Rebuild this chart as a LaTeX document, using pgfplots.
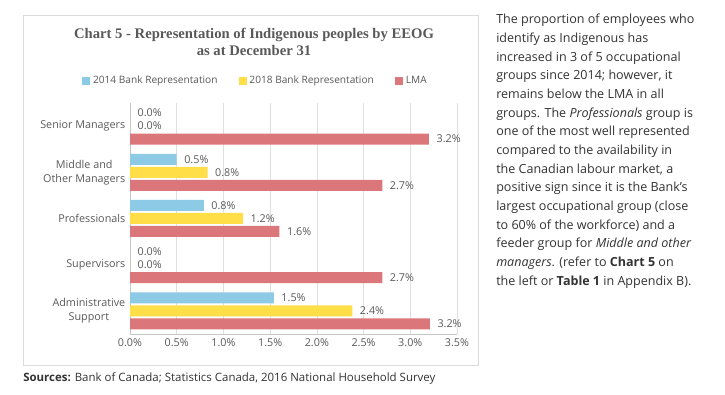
\documentclass[border=0pt]{standalone}
\usepackage{pgfplots}
\pgfplotsset{compat=1.18}
\usepackage{fontspec}
\setmainfont{Open Sans}
\newfontfamily\titlefont{Liberation Serif}
\definecolor{cblue}{RGB}{141,202,229}
\definecolor{cyellow}{RGB}{255,222,72}
\definecolor{cred}{RGB}{219,118,122}
\definecolor{tgray}{RGB}{89,89,89}
\definecolor{ptext}{RGB}{50,50,50}
\pgfplotsset{sqleg/.style={legend image code/.code={\fill[##1] (0pt,-3pt) rectangle (6pt,3pt);}}}
\begin{document}
\begin{tikzpicture}
\draw[gray!28, line width=0.6pt] (17.25pt,-11.25pt) rectangle (358.5pt,-273.75pt);
\node[font=\titlefont\bfseries\fontsize{11}{12.75}\selectfont, text=tgray, align=center] at (190.5pt,-31.8pt) {Chart 5 - Representation of Indigenous peoples by EEOG\\as at December 31};
\begin{axis}[
  at={(97.5pt,-250.5pt)}, anchor=south west,
  scale only axis, width=245.25pt, height=173.25pt,
  xbar=1.5pt, bar width=8.25pt,
  xmin=0, xmax=3.5, ymin=-0.5, ymax=4.5,
  xtick={0,0.5,1,1.5,2,2.5,3,3.5},
  xticklabels={0.0\%,0.5\%,1.0\%,1.5\%,2.0\%,2.5\%,3.0\%,3.5\%},
  ytick={0,1,2,3,4},
  yticklabels={{Administrative\\Support},Supervisors,Professionals,{Middle and\\Other Managers},Senior Managers},
  yticklabel style={align=center, font=\fontsize{8.1}{10.5}\selectfont, text=tgray},
  xticklabel style={font=\fontsize{8.1}{10}\selectfont, text=tgray},
  major tick length=0pt,
  axis x line*=bottom, axis y line*=left,
  axis line style={draw=gray!45},
  xmajorgrids, grid style={draw=gray!25},
  point meta=explicit symbolic,
  nodes near coords,
  every node near coord/.append style={anchor=west, inner sep=0pt, xshift=5.5pt, font=\fontsize{8.1}{10}\selectfont, text=tgray},
  legend columns=3,
  legend style={at={(axis description cs:0.385,1.095)}, anchor=center, draw=none, fill=none,
    font=\fontsize{7.6}{9}\selectfont, text=tgray,
    /tikz/every even column/.append style={column sep=14pt}},
]
\addplot[fill=cblue, draw=none, sqleg, bar shift=9.75pt] coordinates {
 (0,4) [0.0\%] (0.5,3) [0.5\%] (0.79,2) [0.8\%] (0,1) [0.0\%] (1.54,0) [1.5\%] };
\addlegendentry{2014 Bank Representation}
\addplot[fill=cyellow, draw=none, sqleg, bar shift=0pt] coordinates {
 (0,4) [0.0\%] (0.83,3) [0.8\%] (1.21,2) [1.2\%] (0,1) [0.0\%] (2.38,0) [2.4\%] };
\addlegendentry{2018 Bank Representation}
\addplot[fill=cred, draw=none, sqleg, bar shift=-9.75pt] coordinates {
 (3.2,4) [3.2\%] (2.7,3) [2.7\%] (1.6,2) [1.6\%] (2.7,1) [2.7\%] (3.21,0) [3.2\%] };
\addlegendentry{LMA}
\end{axis}
\node[anchor=base west, font=\fontsize{8.6}{10}\selectfont, text=ptext, inner sep=0pt] at (17.25pt,-286.5pt) {\textbf{Sources:} Bank of Canada; Statistics Canada, 2016 National Household Survey};
\node[anchor=north west, align=left, inner sep=0pt, font=\fontsize{9.4}{14}\selectfont, text=ptext] at (372pt,-10.5pt) {The proportion of employees who\\
identify as Indigenous has\\
increased in 3 of 5 occupational\\
groups since 2014; however, it\\
remains below the LMA in all\\
groups. The \textit{Professionals} group is\\
one of the most well represented\\
compared to the availability in\\
the Canadian labour market, a\\
positive sign since it is the Bank’s\\
largest occupational group (close\\
to 60\% of the workforce) and a\\
feeder group for \textit{Middle and other}\\
\textit{managers}. (refer to \textbf{Chart 5} on\\
the left or \textbf{Table 1} in Appendix B).};
\pgfresetboundingbox
\path[use as bounding box] (0pt,0pt) rectangle (543.75pt,-296.25pt);
\end{tikzpicture}
\end{document}
